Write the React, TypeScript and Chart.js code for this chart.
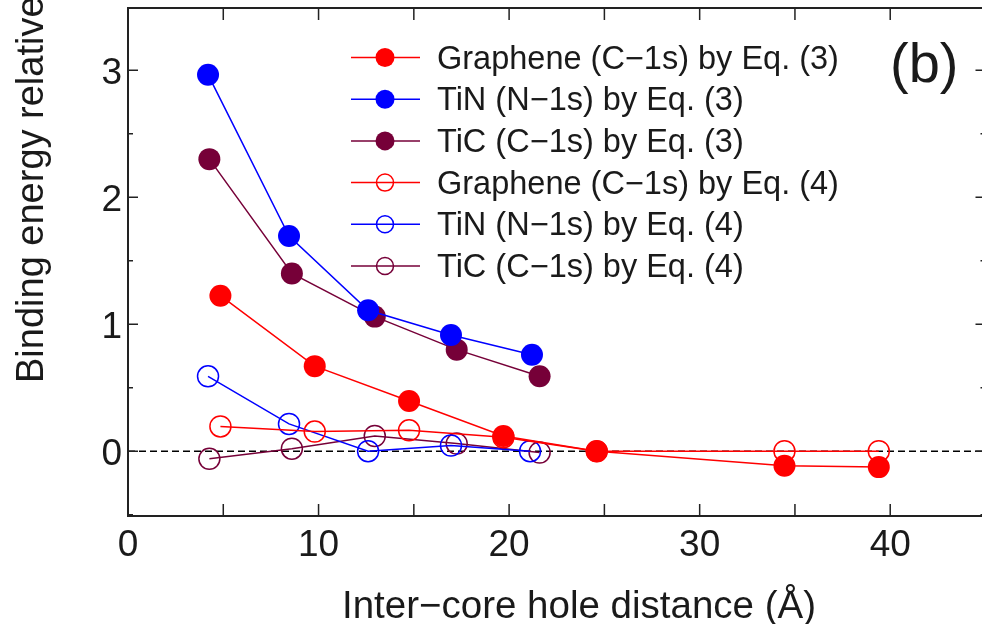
import { useEffect, useRef } from 'react';
import { Chart, registerables } from 'chart.js';

Chart.register(...registerables);

// ---------- data ----------
const grapheneX3 = [4.85, 9.8, 14.75, 19.7, 24.6, 34.45, 39.4];
const grapheneY3 = [1.225, 0.67, 0.395, 0.12, 0.0, -0.115, -0.125];
const tinX3 = [4.2, 8.45, 12.6, 16.95, 21.2];
const tinY3 = [2.965, 1.695, 1.11, 0.915, 0.76];
const ticX3 = [4.27, 8.6, 12.95, 17.25, 21.6];
const ticY3 = [2.3, 1.4, 1.06, 0.8, 0.59];
const grapheneX4 = [4.85, 9.8, 14.75, 19.7, 24.6, 34.45, 39.4];
const grapheneY4 = [0.195, 0.155, 0.165, 0.11, 0.0, 0.0, 0.0];
const tinX4 = [4.2, 8.45, 12.6, 16.95, 21.1];
const tinY4 = [0.59, 0.215, 0.0, 0.045, 0.0];
const ticX4 = [4.27, 8.6, 12.95, 17.25, 21.6];
const ticY4 = [-0.06, 0.02, 0.12, 0.06, -0.01];

const seriesLabels = [
  'Graphene (C\u22121s) by Eq. (3)',
  'TiN (N\u22121s) by Eq. (3)',
  'TiC (C\u22121s) by Eq. (3)',
  'Graphene (C\u22121s) by Eq. (4)',
  'TiN (N\u22121s) by Eq. (4)',
  'TiC (C\u22121s) by Eq. (4)',
];

const xTickMarks = [0, 5, 10, 15, 20, 25, 30, 35, 40, 45];
const xTickLabels = [0, 10, 20, 30, 40];
const yTickMarks = [-0.5, 0, 0.5, 1, 1.5, 2, 2.5, 3];
const yTickLabels = [0, 1, 2, 3];
const xTitle = 'Inter\u2212core hole distance (\u00C5)';
const yTitle = 'Binding energy relative';
const panelLabel = '(b)';

const FONT = '"Liberation Sans", Arial, Helvetica, sans-serif';
const RED = '#ff0000';
const BLUE = '#0000ff';
const MAROON = '#760038';
const TEXT = '#1a1a1a';

const pts = (xs: number[], ys: number[]) => xs.map((x, i) => ({ x, y: ys[i] }));

const makeDs = (label: string, xs: number[], ys: number[], color: string, filled: boolean) => ({
  label,
  data: pts(xs, ys),
  showLine: true,
  borderColor: color,
  borderWidth: 1.5,
  pointRadius: filled ? 11 : 10.5,
  pointHoverRadius: filled ? 11 : 10.5,
  pointBackgroundColor: filled ? color : 'rgba(0,0,0,0)',
  pointBorderColor: color,
  pointBorderWidth: filled ? 0 : 1.5,
  filledMarker: filled,
  clip: false as any,
});

const framePlugin = {
  id: 'framePlugin',
  beforeDatasetsDraw(chart: any) {
    const { ctx, chartArea } = chart;
    const { left, top, right, bottom } = chartArea;
    const xs = chart.scales.x;
    const ys = chart.scales.y;
    ctx.save();
    // dashed zero line
    const y0 = ys.getPixelForValue(0);
    ctx.setLineDash([7, 4]);
    ctx.lineWidth = 1.5;
    ctx.strokeStyle = '#000';
    ctx.beginPath();
    ctx.moveTo(left, y0);
    ctx.lineTo(right, y0);
    ctx.stroke();
    ctx.setLineDash([]);
    // frame
    ctx.lineWidth = 2;
    ctx.strokeStyle = '#222';
    ctx.strokeRect(left, top, right - left, bottom - top);
    // ticks
    ctx.lineWidth = 1.5;
    ctx.beginPath();
    xTickMarks.forEach((v) => {
      const px = xs.getPixelForValue(v);
      ctx.moveTo(px, bottom);
      ctx.lineTo(px, bottom - 12);
      ctx.moveTo(px, top);
      ctx.lineTo(px, top + 12);
    });
    yTickMarks.forEach((v) => {
      const py = ys.getPixelForValue(v);
      const len = Number.isInteger(v) ? 10 : 5;
      ctx.moveTo(left, py);
      ctx.lineTo(left + len, py);
      ctx.moveTo(right, py);
      ctx.lineTo(right - len, py);
    });
    ctx.stroke();

    // tick labels
    ctx.fillStyle = TEXT;
    ctx.font = `37px ${FONT}`;
    ctx.textBaseline = 'alphabetic';
    ctx.textAlign = 'center';
    xTickLabels.forEach((v) => {
      ctx.fillText(String(v), xs.getPixelForValue(v), 555.5);
    });
    ctx.textAlign = 'right';
    yTickLabels.forEach((v) => {
      ctx.fillText(String(v), left - 6, ys.getPixelForValue(v) + 13.5);
    });
    ctx.restore();
  },
  afterDraw(chart: any) {
    const { ctx } = chart;
    ctx.save();
    // legend
    const rowY0 = 57.5;
    const rowStep = 41.7;
    chart.data.datasets.forEach((ds: any, i: number) => {
      const ry = rowY0 + i * rowStep;
      ctx.strokeStyle = ds.borderColor;
      ctx.lineWidth = 1.5;
      ctx.beginPath();
      ctx.moveTo(351, ry);
      ctx.lineTo(420, ry);
      ctx.stroke();
      ctx.beginPath();
      ctx.arc(385, ry, ds.filledMarker ? 9.5 : 8.5, 0, Math.PI * 2);
      if (ds.filledMarker) {
        ctx.fillStyle = ds.borderColor;
        ctx.fill();
      } else {
        ctx.stroke();
      }
      ctx.fillStyle = TEXT;
      ctx.font = `32.5px ${FONT}`;
      ctx.textAlign = 'left';
      ctx.textBaseline = 'alphabetic';
      ctx.fillText(ds.label, 437, ry + 11);
    });
    // panel label
    ctx.fillStyle = TEXT;
    ctx.font = `56px ${FONT}`;
    ctx.textAlign = 'left';
    ctx.textBaseline = 'alphabetic';
    ctx.fillText(panelLabel, 890, 82);
    // x title
    ctx.font = `38.5px ${FONT}`;
    ctx.textAlign = 'center';
    ctx.fillText(xTitle, 579, 618);
    // y title
    ctx.translate(43, 383);
    ctx.rotate(-Math.PI / 2);
    ctx.textAlign = 'left';
    ctx.font = `38px ${FONT}`;
    ctx.fillText(yTitle, 0, 0);
    ctx.restore();
  },
};

export default function App() {
  const ref = useRef<HTMLCanvasElement | null>(null);
  useEffect(() => {
    document.body.style.margin = '0';
    const canvas = ref.current;
    if (!canvas) return;
    const chart = new Chart(canvas, {
      type: 'scatter',
      data: {
        datasets: [
          makeDs(seriesLabels[0], grapheneX3, grapheneY3, RED, true),
          makeDs(seriesLabels[1], tinX3, tinY3, BLUE, true),
          makeDs(seriesLabels[2], ticX3, ticY3, MAROON, true),
          makeDs(seriesLabels[3], grapheneX4, grapheneY4, RED, false),
          makeDs(seriesLabels[4], tinX4, tinY4, BLUE, false),
          makeDs(seriesLabels[5], ticX4, ticY4, MAROON, false),
        ] as any,
      },
      options: {
        animation: false,
        responsive: false,
        devicePixelRatio: 1,
        layout: { autoPadding: false, padding: { top: 8, right: 4.5, left: 0, bottom: 0 } },
        plugins: {
          legend: { display: false },
          tooltip: { enabled: false },
          title: { display: false },
        },
        scales: {
          x: {
            type: 'linear',
            min: 0,
            max: 45,
            grid: { display: false },
            border: { display: false },
            afterFit: (s: any) => {
              s.height = 108;
            },
            ticks: { display: false, stepSize: 5 },
          },
          y: {
            type: 'linear',
            min: -0.51,
            max: 3.49,
            grid: { display: false },
            border: { display: false },
            afterFit: (s: any) => {
              s.width = 128;
            },
            ticks: { display: false, stepSize: 0.5 },
          },
        } as any,
      },
      plugins: [framePlugin],
    });
    return () => chart.destroy();
  }, []);

  return (
    <div style={{ position: 'absolute', left: 0, top: 0, width: 982, height: 624, overflow: 'hidden', background: '#fff' }}>
      <canvas ref={ref} width={990} height={624} style={{ width: 990, height: 624, display: 'block' }} />
    </div>
  );
}
